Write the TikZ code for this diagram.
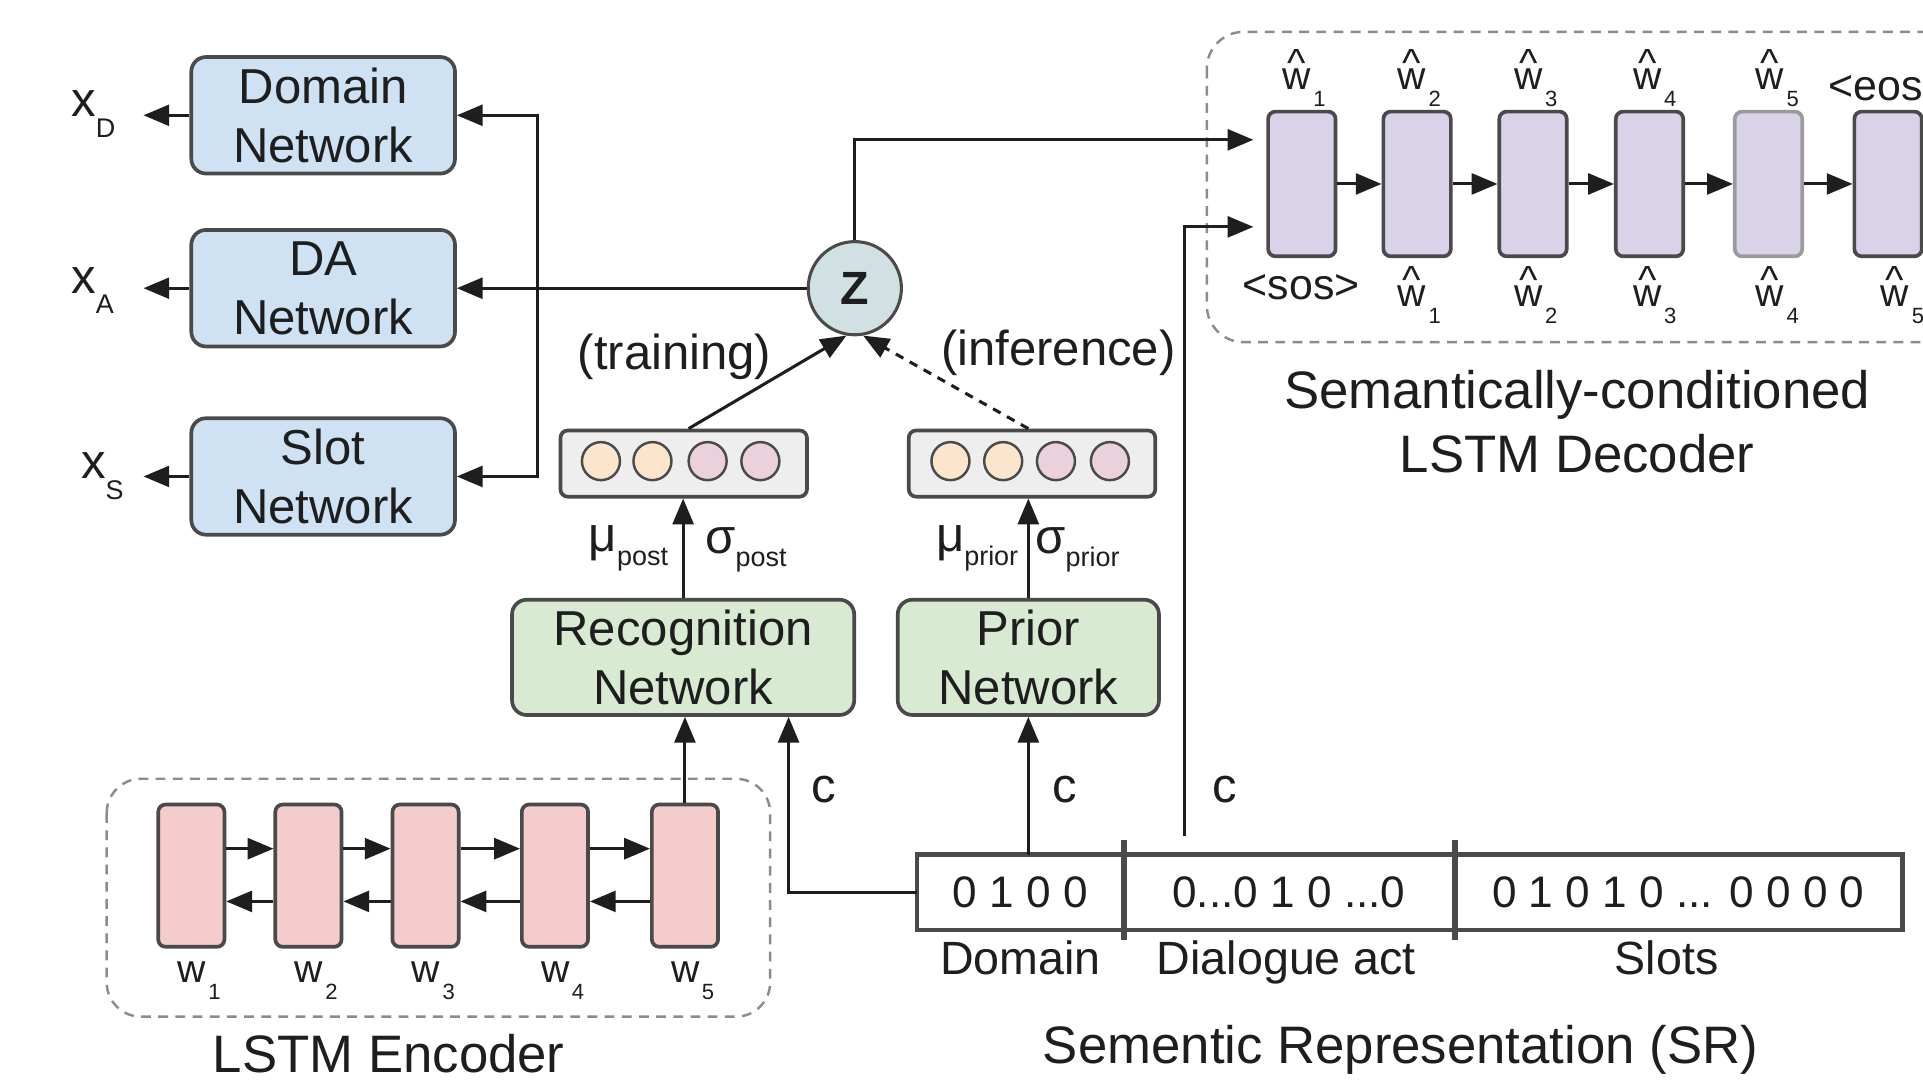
\documentclass[tikz,border=0pt]{standalone}
\usepackage{fontspec}
\setmainfont{Liberation Sans}
\usetikzlibrary{arrows.meta}
\definecolor{cBlue}{HTML}{CFE2F3}
\definecolor{cGreen}{HTML}{D9EAD3}
\definecolor{cPink}{HTML}{F4CCCC}
\definecolor{cPurp}{HTML}{D9D2E9}
\definecolor{cPeach}{HTML}{FCE5CD}
\definecolor{cMauve}{HTML}{EAD1DC}
\definecolor{cVec}{HTML}{EEEEEE}
\definecolor{cZ}{HTML}{D0E0E3}
\definecolor{cEdge}{HTML}{4A4A4A}
\definecolor{cInk}{HTML}{1E1E1E}
\definecolor{cDash}{HTML}{8C8C8C}
\newcommand\fsz[1]{\fontsize{#1}{#1}\selectfont}
\newcommand\xsub[1]{\raisebox{-17pt}{\fsz{22}#1}}
\newcommand\wsub[1]{\hspace{2pt}\raisebox{-14pt}{\fsz{18}#1}}
\newcommand\gsub[1]{\raisebox{-11pt}{\fsz{22}#1}}
\newcommand\hw[1]{\makebox[0pt][l]{\hspace{4pt}\raisebox{11pt}{\textasciicircum}}w\wsub{#1}}
\begin{document}
\begin{tikzpicture}[x=1pt,y=-1pt,
  font=\fontsize{40}{48}\selectfont, text=cInk,
  arr/.style={-{Triangle[length=21pt,width=17pt]}, line width=2.5pt, draw=cInk},
  netbox/.style={rounded corners=12pt, draw=cEdge, line width=3pt, fill=cBlue,
     minimum width=215pt, minimum height=95pt, align=center, inner sep=0pt},
  recbox/.style={netbox, fill=cGreen, minimum height=94pt},
  vecbox/.style={rounded corners=6pt, draw=cEdge, line width=3pt, fill=cVec,
     minimum width=201pt, minimum height=54pt, inner sep=0pt},
  vdot/.style={circle, draw=cEdge, line width=2pt, minimum size=31pt, inner sep=0pt},
  enccell/.style={rounded corners=6pt, draw=cEdge, line width=3pt, fill=cPink,
     minimum width=54pt, minimum height=116pt, inner sep=0pt},
  deccell/.style={enccell, fill=cPurp, minimum width=55pt, minimum height=118pt},
  dashbox/.style={draw=cDash, line width=2pt, dash pattern=on 8pt off 6pt, rounded corners=28pt},
  srpart/.style={minimum height=61pt, inner sep=0pt, font=\fsz{36}},
  lab/.style={inner sep=0pt},
  wl/.style={anchor=base west, inner sep=0pt, font=\fsz{32}},
  title/.style={inner sep=0pt, font=\fontsize{43}{52}\selectfont, align=center}
]
\useasboundingbox (0,0) rectangle (1568,890);
\clip (0,0) rectangle (1568,890);
\fill[white] (0,0) rectangle (1568,890);

% ---------------- left networks
\node[netbox] (dom) at (263.5,94) {Domain\\Network};
\node[netbox] (da) at (263.5,235) {DA\\Network};
\node[netbox] (slot) at (263.5,388.5) {Slot\\Network};
\node[anchor=base west, lab] (xD) at (58,95) {x\xsub{D}};
\node[anchor=base west, lab] (xA) at (58,239) {x\xsub{A}};
\node[anchor=base west, lab] (xS) at (66,390) {x\xsub{S}};
\coordinate (oD) at (117,94);
\coordinate (oA) at (117,235);
\coordinate (oS) at (117,388.5);
\draw[arr] (dom.west) -- (oD);
\draw[arr] (da.west) -- (oA);
\draw[arr] (slot.west) -- (oS);

% ---------------- latent z
\node[circle, draw=cEdge, fill=cZ, line width=2.5pt, minimum size=76pt, inner sep=0pt,
      font=\bfseries\fsz{38}] (z) at (697,235) {Z};
\coordinate (bus) at (438,235);
\draw[arr] (z.west) -- (da.east);
\draw[arr] (bus) |- (dom.east);
\draw[arr] (bus) |- (slot.east);

% ---------------- mean / variance vectors
\node[vecbox] (post) at (557.5,378) {};
\node[vecbox] (pri) at (841.5,378) {};
\node[vdot, fill=cPeach] (pa) at (490,376) {};
\node[vdot, fill=cPeach] (pb) at (532,376) {};
\node[vdot, fill=cMauve] (pc) at (577,376) {};
\node[vdot, fill=cMauve] (pd) at (620,376) {};
\node[vdot, fill=cPeach] (qa) at (775,376) {};
\node[vdot, fill=cPeach] (qb) at (818,376) {};
\node[vdot, fill=cMauve] (qc) at (861,376) {};
\node[vdot, fill=cMauve] (qd) at (905,376) {};
\draw[arr] ([xshift=4pt]post.north) -- (z.-100);
\draw[arr, dash pattern=on 7pt off 6pt] ([xshift=-3pt]pri.north) -- (z.-80);
\node[lab] (trn) at (550,291) {(training)};
\node[lab] (inf) at (863,288) {(inference)};

\node[anchor=base west, lab] (mupost) at (480,450) {μ\gsub{post}};
\node[anchor=base west, lab] (sgpost) at (575,451) {σ\gsub{post}};
\node[anchor=base west, lab] (mupri) at (763,450) {μ\gsub{prior}};
\node[anchor=base west, lab] (sgpri) at (844,451) {σ\gsub{prior}};

% ---------------- recognition / prior networks
\node[recbox, minimum width=279pt] (rec) at (557,536) {Recognition\\Network};
\node[recbox, minimum width=213pt] (prn) at (838.5,536) {Prior\\Network};
\draw[arr] (rec.north) -- (rec.north |- post.south);
\draw[arr] (prn.north) -- (prn.north |- pri.south);

% ---------------- LSTM encoder
\draw[dashbox] (87,635) rectangle (628,829);
\node[enccell] (e1) at (156,714) {};
\node[enccell] (e2) at (251.5,714) {};
\node[enccell] (e3) at (347,714) {};
\node[enccell] (e4) at (452.5,714) {};
\node[enccell] (e5) at (558.5,714) {};
\foreach \a/\b in {e1/e2,e2/e3,e3/e4,e4/e5}{
  \draw[arr] ([yshift=22pt]\a.east) -- ([yshift=22pt]\b.west);
  \draw[arr] ([yshift=-21pt]\b.west) -- ([yshift=-21pt]\a.east);
}
\node[wl] (w1) at (144.5,801) {w\wsub{1}};
\node[wl] (w2) at (240,801) {w\wsub{2}};
\node[wl] (w3) at (335.5,801) {w\wsub{3}};
\node[wl] (w4) at (441,801) {w\wsub{4}};
\node[wl] (w5) at (547,801) {w\wsub{5}};
\node[title] (enct) at (317,859) {LSTM Encoder};
\draw[arr] (e5.north) -- (e5.north |- rec.south);

% ---------------- semantic representation
\node[srpart, minimum width=168pt] (srd) at (832,727.5) {0 1 0 0};
\node[srpart, minimum width=270pt] (sra) at (1051,727.5) {0...0 1 0 ...0};
\node[srpart, minimum width=365pt] (srs) at (1368.5,727.5) {0 1 0 1 0 ... 0 0 0 0};
\draw[line width=3.5pt, draw=cEdge] (srd.north west) rectangle (srs.south east);
\draw[line width=5pt, draw=cEdge] ([yshift=12pt]srd.north east) -- ([yshift=-8pt]srd.south east);
\draw[line width=5pt, draw=cEdge] ([yshift=12pt]sra.north east) -- ([yshift=-8pt]sra.south east);
\node[anchor=base, lab, font=\fsz{38}] (ld) at (832,795) {Domain};
\node[anchor=base, lab, font=\fsz{38}] (la) at (1049,795) {Dialogue act};
\node[anchor=base, lab, font=\fsz{38}] (ls) at (1359,795) {Slots};
\node[title] (srt) at (1142,856) {Sementic Representation (SR)};

\draw[arr] (srd.west) -| ([xshift=86pt]rec.south);
\draw[arr] (prn.south |- srd.north) -- (prn.south);
\node[lab] (c1) at (672,644) {c};
\node[lab] (c2) at (868,644) {c};
\node[lab] (c3) at (999,644) {c};

% ---------------- decoder
\draw[dashbox, rounded corners=30pt] (984,26) rectangle (1640,279);
\node[deccell] (d1) at (1061.5,150) {};
\node[deccell] (d2) at (1155.5,150) {};
\node[deccell] (d3) at (1250,150) {};
\node[deccell] (d4) at (1345,150) {};
\node[deccell, draw=cEdge!55] (d5) at (1442,150) {};
\node[deccell] (d6) at (1539.5,150) {};
\foreach \a/\b in {d1/d2,d2/d3,d3/d4,d4/d5,d5/d6}{
  \draw[arr] (\a.east) -- (\b.west);
}
\coordinate (din1) at (1022,114);
\coordinate (din2) at (1022,185);
\coordinate (cdec) at (966,682);
\draw[arr] (z.north) |- (din1);
\draw[arr] (cdec) |- (din2);

\node[wl] (t1) at (1045.5,73) {\hw{1}};
\node[wl] (t2) at (1139.5,73) {\hw{2}};
\node[wl] (t3) at (1234.5,73) {\hw{3}};
\node[wl] (t4) at (1331.5,73) {\hw{4}};
\node[wl] (t5) at (1431.5,73) {\hw{5}};
\node[anchor=base west, lab, font=\fsz{35}] (eos) at (1491,82) {<eos>};
\node[lab, font=\fsz{35}] (sos) at (1061,234) {<sos>};
\node[wl] (b1) at (1139.5,250) {\hw{1}};
\node[wl] (b2) at (1234.5,250) {\hw{2}};
\node[wl] (b3) at (1331.5,250) {\hw{3}};
\node[wl] (b4) at (1431.5,250) {\hw{4}};
\node[wl] (b5) at (1533.5,250) {\hw{5}};
\node[title] (dect) at (1286,344) {Semantically-conditioned\\LSTM Decoder};
\end{tikzpicture}
\end{document}
